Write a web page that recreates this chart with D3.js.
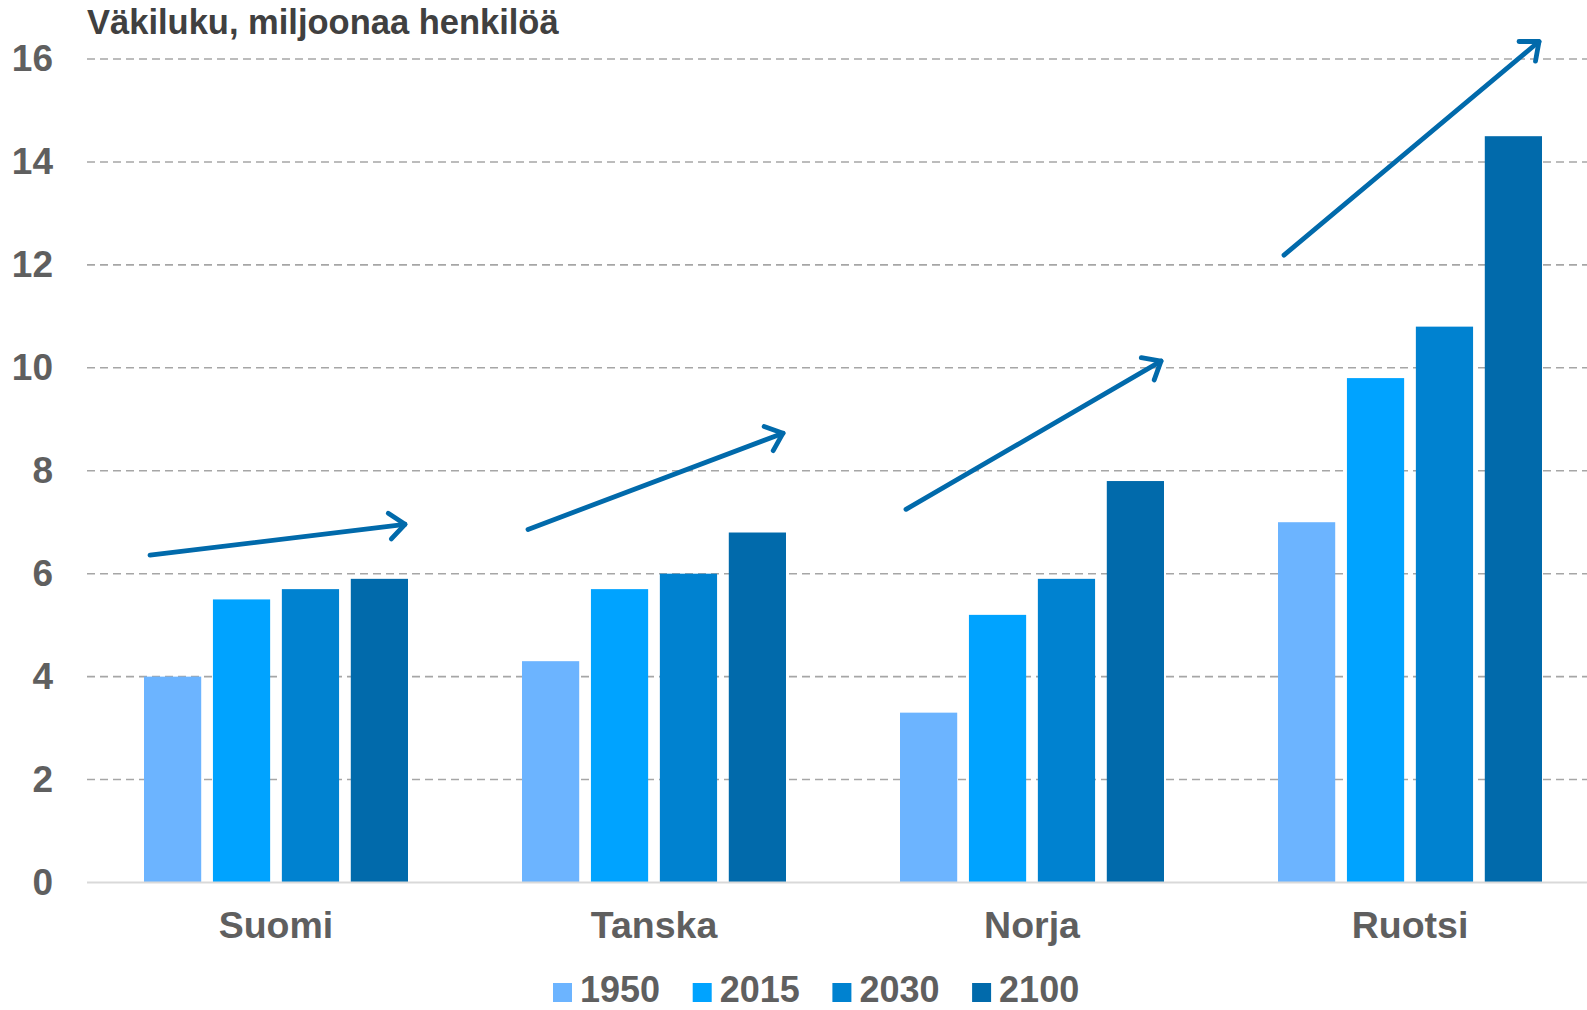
<!DOCTYPE html>
<html>
<head>
<meta charset="utf-8">
<script src="https://cdn.jsdelivr.net/npm/d3@7"></script>
<style>
  body { margin: 0; background: #fff; }
  text { font-family: "Liberation Sans", Arial, sans-serif; font-weight: bold; }
</style>
</head>
<body>
<div id="container"></div>
<script>
/* CONSTANTS AND GLOBALS */
const width = 1587;
const height = 1010;
const margin = {top: 59, right: -12, bottom: 127.5, left: 87};

/* DATA */
const categories = ["Suomi", "Tanska", "Norja", "Ruotsi"];
const years = ["1950", "2015", "2030", "2100"];
const v1950 = [4.0, 4.3, 3.3, 7.0];
const v2015 = [5.5, 5.7, 5.2, 9.8];
const v2030 = [5.7, 6.0, 5.9, 10.8];
const v2100 = [5.9, 6.8, 7.8, 14.5];
const yTicks = [0, 2, 4, 6, 8, 10, 12, 14, 16];
// trend arrows, start and end value for each country
const arrowFrom = [6.36, 6.86, 7.25, 12.19];
const arrowTo = [6.96, 8.73, 10.13, 16.34];

const colors = ["#6cb4ff", "#00a3ff", "#0082d0", "#016aab"];
const series = [v1950, v2015, v2030, v2100];

const data = categories.map((c, i) => ({
  country: c,
  values: years.map((y, j) => ({year: y, value: series[j][i]}))
}));

/* SCALES */
const x0 = d3.scaleBand()
  .domain(categories)
  .range([margin.left, width - margin.right]);

const x1 = d3.scaleBand()
  .domain(years)
  .range([57, 321])
  .paddingInner(.17);

const yScale = d3.scaleLinear()
  .domain([0, 16])
  .range([height - margin.bottom, margin.top]);

const color = d3.scaleOrdinal().domain(years).range(colors);

/* SVG */
const svg = d3.select("#container")
  .append("svg")
    .attr("width", width)
    .attr("height", height);

// gridlines
svg.append("g")
  .selectAll("line")
  .data(yTicks.filter(d => d > 0))
  .join("line")
    .attr("x1", margin.left)
    .attr("x2", width)
    .attr("y1", d => yScale(d))
    .attr("y2", d => yScale(d))
    .attr("stroke", "#a6a6a6")
    .attr("stroke-width", 1.6)
    .attr("stroke-dasharray", "8,5");

// y axis labels
const yAxis = d3.axisLeft(yScale).tickValues(yTicks).tickSize(0).tickPadding(0);
svg.append("g")
  .attr("transform", "translate(53,0)")
  .call(yAxis)
  .call(g => g.select(".domain").remove())
  .selectAll("text")
    .attr("fill", "#5f5f5f")
    .style("font-size", "37px")
    .style("font-family", "'Liberation Sans', Arial, sans-serif")
    .style("font-weight", "bold");

// bars
const groups = svg.append("g")
  .selectAll("g")
  .data(data)
  .join("g")
    .attr("transform", d => `translate(${x0(d.country)},0)`);

groups.selectAll("rect")
  .data(d => d.values)
  .join("rect")
    .attr("x", d => x1(d.year))
    .attr("y", d => yScale(d.value))
    .attr("width", x1.bandwidth())
    .attr("height", d => yScale(0) - yScale(d.value))
    .attr("fill", d => color(d.year));

// baseline
svg.append("line")
  .attr("x1", margin.left)
  .attr("x2", width)
  .attr("y1", yScale(0))
  .attr("y2", yScale(0))
  .attr("stroke", "#d9d9d9")
  .attr("stroke-width", 2);

// x axis labels
const xAxis = d3.axisBottom(x0).tickSize(0).tickPadding(0);
svg.append("g")
  .attr("transform", `translate(0,${yScale(0) + 29})`)
  .call(xAxis)
  .call(g => g.select(".domain").remove())
  .selectAll("text")
    .attr("fill", "#5f5f5f")
    .style("font-size", "37.5px")
    .style("font-family", "'Liberation Sans', Arial, sans-serif")
    .style("font-weight", "bold");

// arrows
const arrowG = svg.append("g")
  .attr("stroke", "#016aab")
  .attr("stroke-width", 4.8)
  .attr("stroke-linecap", "round")
  .attr("stroke-linejoin", "round")
  .attr("fill", "none");

categories.forEach((c, i) => {
  const xs = x0(c) + x1("1950") + 6;
  const xe = x0(c) + x1("2100") + x1.bandwidth() - 3;
  const ys = yScale(arrowFrom[i]);
  const ye = yScale(arrowTo[i]);
  arrowG.append("line")
    .attr("x1", xs).attr("y1", ys)
    .attr("x2", xe).attr("y2", ye);
  const ang = Math.atan2(ye - ys, xe - xs);
  const len = 20, spread = 40 * Math.PI / 180;
  const a1 = ang + Math.PI - spread, a2 = ang + Math.PI + spread;
  arrowG.append("path")
    .attr("d", `M${xe + len * Math.cos(a1)},${ye + len * Math.sin(a1)}L${xe},${ye}L${xe + len * Math.cos(a2)},${ye + len * Math.sin(a2)}`);
});

// title
svg.append("text")
  .attr("x", 87)
  .attr("y", 34)
  .attr("fill", "#404040")
  .style("font-size", "34.5px")
  .text("Väkiluku, miljoonaa henkilöä");

// legend
const legend = svg.append("g")
  .attr("transform", "translate(553,0)")
  .selectAll("g")
  .data(years)
  .join("g")
    .attr("transform", (d, i) => `translate(${i * 139.7},0)`);

legend.append("rect")
  .attr("y", 983)
  .attr("width", 19)
  .attr("height", 19)
  .attr("fill", d => color(d));

legend.append("text")
  .attr("x", 27)
  .attr("y", 1002)
  .attr("fill", "#5f5f5f")
  .style("font-size", "36px")
  .text(d => d);
</script>
</body>
</html>
